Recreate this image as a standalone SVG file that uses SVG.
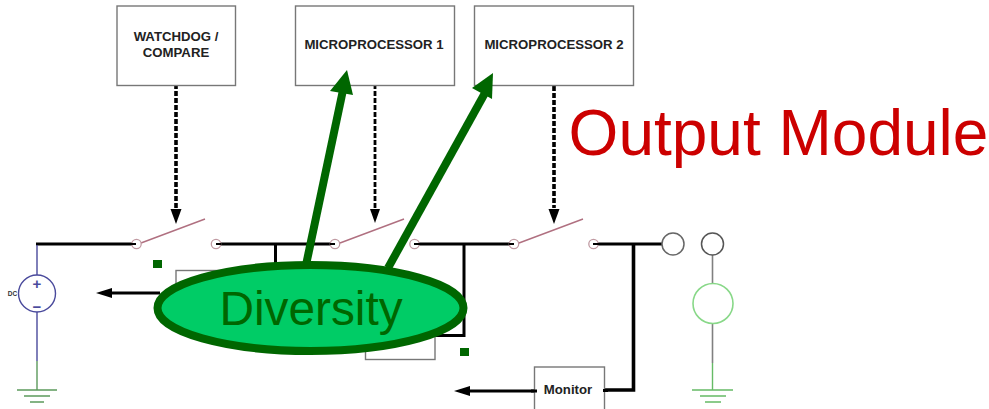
<svg xmlns="http://www.w3.org/2000/svg" width="989" height="409" viewBox="0 0 989 409">
<style>
.box{fill:#fff;stroke:#777;stroke-width:1.4}
.lbl{font-family:"Liberation Sans",Arial,sans-serif;font-weight:700;font-size:13.2px;fill:#222;text-anchor:middle}
.bus{stroke:#000;stroke-width:3;fill:none}
.ctl{stroke:#000;stroke-width:3.6;fill:none;stroke-dasharray:5 2}
.ctl2{stroke:#000;stroke-width:2.8;fill:none;stroke-dasharray:5 2}
.term{fill:#fff;stroke:#c09aa2;stroke-width:1.3}
.blade{stroke:#b07080;stroke-width:1.4;fill:none}
.big{stroke:#006600;stroke-width:8;fill:none}
.thin{stroke:#808080;stroke-width:1.6;fill:none}
.gnd{stroke:#5c9a5c;stroke-width:1.4;fill:none}
.lgnd{stroke:#66bb66;stroke-width:1.4;fill:none}
.src{font-family:"Liberation Sans",Arial,sans-serif;font-size:15px;font-weight:700;fill:#4a4a9c;text-anchor:middle}
.head{fill:#000}
.mark{fill:#006600}
</style>
<g id="connectors">
<path class="bus" d="M36 244H136M216 244H335M275.500 244V270M414.500 244H514M593.500 244H662"/>
<path class="bus" d="M464 244V335.500H436"/>
<path class="bus" style="stroke-width:3.600" d="M633.500 244V390H604"/>
<path d="M37 245V275M37 312V361" stroke="#4a4a9c" stroke-width="1.400" fill="none"/>
<path class="gnd" d="M37 361V390M17 390H57M24 396H50M30 402H44"/>
<path class="thin" d="M712.500 255V284M712.500 323V363"/>
<path class="lgnd" d="M712.500 363V390M692 390H733M700 396H726M705 402H721"/>
<path class="ctl" d="M176 84V208"/>
<path class="head" d="M170.500 209H181.500L176 224Z"/>
<path class="ctl2" d="M375 84V208"/>
<path class="head" d="M370 209H380L375 223Z"/>
<path class="ctl" d="M554 86V208"/>
<path class="head" d="M548.500 209H559.500L554 224Z"/>
<path class="blade" d="M141 243L205 219M340 243L404 219M519 243L583 219"/>
<path class="bus" d="M160 293H110"/>
<path class="head" d="M112 288V298L96 293Z"/>
<path class="bus" d="M536 391H468"/>
<path class="head" d="M470 386V396L454 391Z"/>
</g>
<g id="terminals">
<circle class="term" cx="136.500" cy="244" r="4.700"/><circle class="term" cx="216" cy="244" r="4.700"/>
<circle class="term" cx="335" cy="244" r="4.700"/><circle class="term" cx="414.500" cy="244" r="4.700"/>
<circle class="term" cx="514" cy="244" r="4.700"/><circle class="term" cx="593.500" cy="244" r="4.700"/>
<path class="bus" style="stroke-width:2" d="M131 244H136M216 244H221M330 244H335M414 244H420M509 244H514M593 244H599"/>
</g>
<g id="watchdog"><rect class="box" x="117" y="6" width="118.500" height="79.500"/><text class="lbl" x="176" y="41">WATCHDOG /</text><text class="lbl" x="176" y="57">COMPARE</text></g>
<g id="mp1"><rect class="box" x="295.500" y="6" width="159" height="79.500"/><text class="lbl" x="374" y="49">MICROPROCESSOR 1</text></g>
<g id="mp2"><rect class="box" x="474.500" y="6" width="159" height="79.500"/><text class="lbl" x="554" y="49">MICROPROCESSOR 2</text></g>
<g id="sense1"><rect class="box" x="176" y="270.500" width="60" height="30"/></g>
<g id="sense2"><rect class="box" x="365.500" y="320" width="69.500" height="39.500"/></g>
<path class="bus" d="M464 335.500H436"/>
<g id="monitor"><rect class="box" x="534.500" y="367" width="70" height="50"/><text class="lbl" x="568" y="394">Monitor</text></g>
<path class="bus" d="M531 391H537M603 390.500H608"/>
<g id="source"><circle cx="37" cy="293.500" r="18.500" fill="#fff" stroke="#4a4a9c" stroke-width="1.400"/><text class="src" x="37" y="288.500">+</text><text class="src" x="37" y="311.500">−</text><text x="12.500" y="295.500" font-family="Liberation Sans,sans-serif" font-size="6.500" font-weight="700" fill="#333" text-anchor="middle">DC</text></g>
<g id="t1"><circle cx="673" cy="244" r="11" fill="#fff" stroke="#666" stroke-width="1.500"/></g>
<g id="t2"><circle cx="712.500" cy="244" r="11" fill="#fff" stroke="#555" stroke-width="1.500"/></g>
<g id="load"><circle cx="713" cy="303.500" r="20" fill="#fff" stroke="#88d888" stroke-width="1.600"/></g>
<g id="diversity-arrows">
<path class="big" d="M306 265L343 90"/><path class="mark" d="M330 91L347 70L353 95Z"/>
<path class="big" d="M388 268L485 93"/><path class="mark" d="M472 88L493 73L492 99Z"/>
</g>
<rect class="mark" x="153" y="260" width="9" height="8"/>
<rect class="mark" x="460" y="348" width="9" height="8"/>
<g id="diversity"><ellipse cx="310.500" cy="308" rx="153" ry="43" fill="#00cc66" stroke="#006600" stroke-width="8"/><text x="311" y="325" font-family="Liberation Sans,Arial,sans-serif" font-size="47.800" fill="#006600" text-anchor="middle">Diversity</text></g>
<text id="title" x="778.500" y="155" font-family="Liberation Sans,Arial,sans-serif" font-size="64" fill="#cc0000" text-anchor="middle">Output Module</text>
</svg>
